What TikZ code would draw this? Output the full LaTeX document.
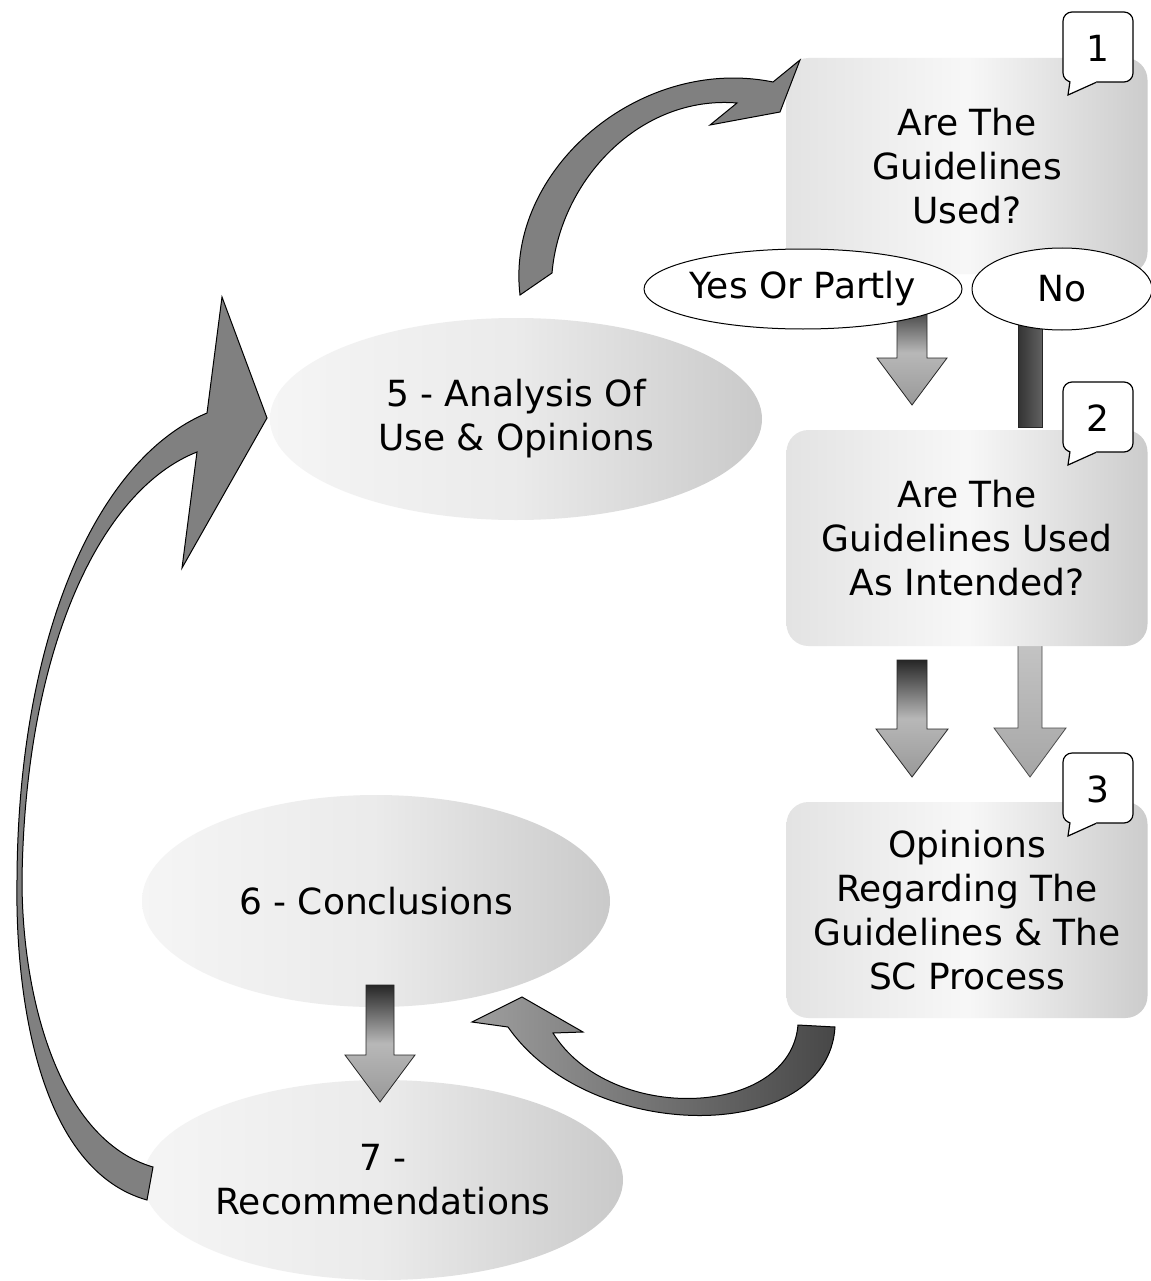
\documentclass[tikz,border=0pt]{standalone}
\usepackage{fontspec}
\setmainfont{DejaVu Sans}
\usetikzlibrary{shapes.geometric}

\tikzset{
  bigtext/.style={font=\fontsize{36}{44}\selectfont},
  qbox/.style={rectangle, rounded corners=22pt, minimum width=361pt, minimum height=216pt,
    left color=gray!22, right color=gray!40, middle color=gray!6, align=center, inner sep=0pt},
  phase/.style={ellipse, left color=gray!8, right color=gray!42, middle color=gray!16,
    align=center, inner sep=0pt},
  answer/.style={ellipse, draw=black, line width=1pt, fill=white, inner xsep=-14pt, inner ysep=0pt},
  bubble/.style={draw=black, line width=1.2pt, fill=white, rounded corners=9pt},
  curvy/.style={draw=black, line width=1pt, fill=black!50},
  twisty/.style={draw=black, line width=1pt, left color=black!38, right color=black!72},
  darkarrow/.style={draw=black!85, line width=0.8pt, top color=black!85, bottom color=black!40, middle color=black!28},
  lightarrow/.style={draw=black!70, line width=0.8pt, top color=black!22, bottom color=black!35},
  nobar/.style={draw=black!85, line width=0.8pt, left color=black!80, right color=black!62},
}

\begin{document}
\begin{tikzpicture}[x=1pt,y=-1pt]

\newcommand\blkarrow[7]{%
  \path[#1] (#2-#6,#3) -- (#2+#6,#3) -- (#2+#6,#4) -- (#2+#7,#4) -- (#2,#5)
    -- (#2-#7,#4) -- (#2-#6,#4) -- cycle;}
\newcommand\bubblenum[4]{%
  \draw[bubble] (#1,#2) rectangle (#1+70,#2+70);
  \fill[white] (#1+7,#2+64) -- (#1+7,#2+71) -- (#1+5,#2+83) -- (#1+33,#2+71) -- (#1+33,#2+64) -- cycle;
  \draw[line width=1.2pt] (#1+7,#2+69.4) -- (#1+5,#2+83) -- (#1+33,#2+70.4);
  \node[bigtext] (#3) at (#1+35,#2+36) {#4};}

  \fill[white] (0,0) rectangle (1150,1281);
  \useasboundingbox (0,0) rectangle (1150,1281);

  %% question 1
  \node[qbox, bigtext] (q1) at (967,166) {Are The\\Guidelines\\Used?};

  %% answers -> question 2
  \blkarrow{darkarrow}{912}{300}{358}{405}{15}{35}
  \path[nobar] (1018,310) rectangle (1042,427);

  %% phase 5
  \node[phase, bigtext, minimum width=492pt, minimum height=202pt] (p5) at (516,419)
    {5 - Analysis Of\\Use \& Opinions};

  %% phase 5 -> question 1
  \path[curvy] (773,82) -- (800,60) -- (780,112) -- (710,125) -- (737,103)
    .. controls (640,95) and (560,180) .. (552,273) -- (520,295)
    .. controls (505,170) and (640,55) .. (773,82) -- cycle;

  %% answers
  \node[answer, bigtext, minimum width=318pt, minimum height=80pt] (yes) at (803,289) {Yes Or Partly};
  \node[answer, bigtext, minimum width=180pt, minimum height=82pt] (no) at (1062,289) {No};

  %% question 2
  \blkarrow{lightarrow}{1030}{630}{728}{777}{12}{36}
  \node[qbox, bigtext] (q2) at (967,538) {Are The\\Guidelines Used\\As Intended?};
  \blkarrow{darkarrow}{912}{660}{729}{777}{15}{36}

  %% question 3
  \node[qbox, bigtext] (q3) at (967,910) {Opinions\\Regarding The\\Guidelines \& The\\SC Process};

  %% phases 6 and 7
  \node[phase, bigtext, minimum width=468pt, minimum height=212pt] (p6) at (376,901) {6 - Conclusions};
  \node[phase, bigtext, minimum width=480pt, minimum height=200pt] (p7) at (383,1180)
    {7 -\\Recommendations};
  \blkarrow{darkarrow}{380}{985}{1055}{1102}{14}{35}

  %% phase 7 -> phase 5
  \path[curvy] (207,413) -- (222,297) -- (267,418) -- (182,568) -- (197,452)
    .. controls (100,490) and (25,650) .. (22,880)
    .. controls (22,1000) and (60,1140) .. (153,1167) -- (147,1200)
    .. controls (40,1170) and (15,1000) .. (17,880)
    .. controls (18,640) and (95,460) .. (207,413) -- cycle;

  %% question 3 -> phase 6
  \path[twisty] (508,1027) -- (472,1022) -- (522,997) -- (583,1032) -- (553,1033)
    .. controls (610,1125) and (790,1118) .. (798,1025) -- (835,1027)
    .. controls (828,1145) and (590,1145) .. (508,1027) -- cycle;

  %% step numbers
  \bubblenum{1063}{12}{n1}{1}
  \bubblenum{1063}{382}{n2}{2}
  \bubblenum{1063}{753}{n3}{3}

\end{tikzpicture}
\end{document}
